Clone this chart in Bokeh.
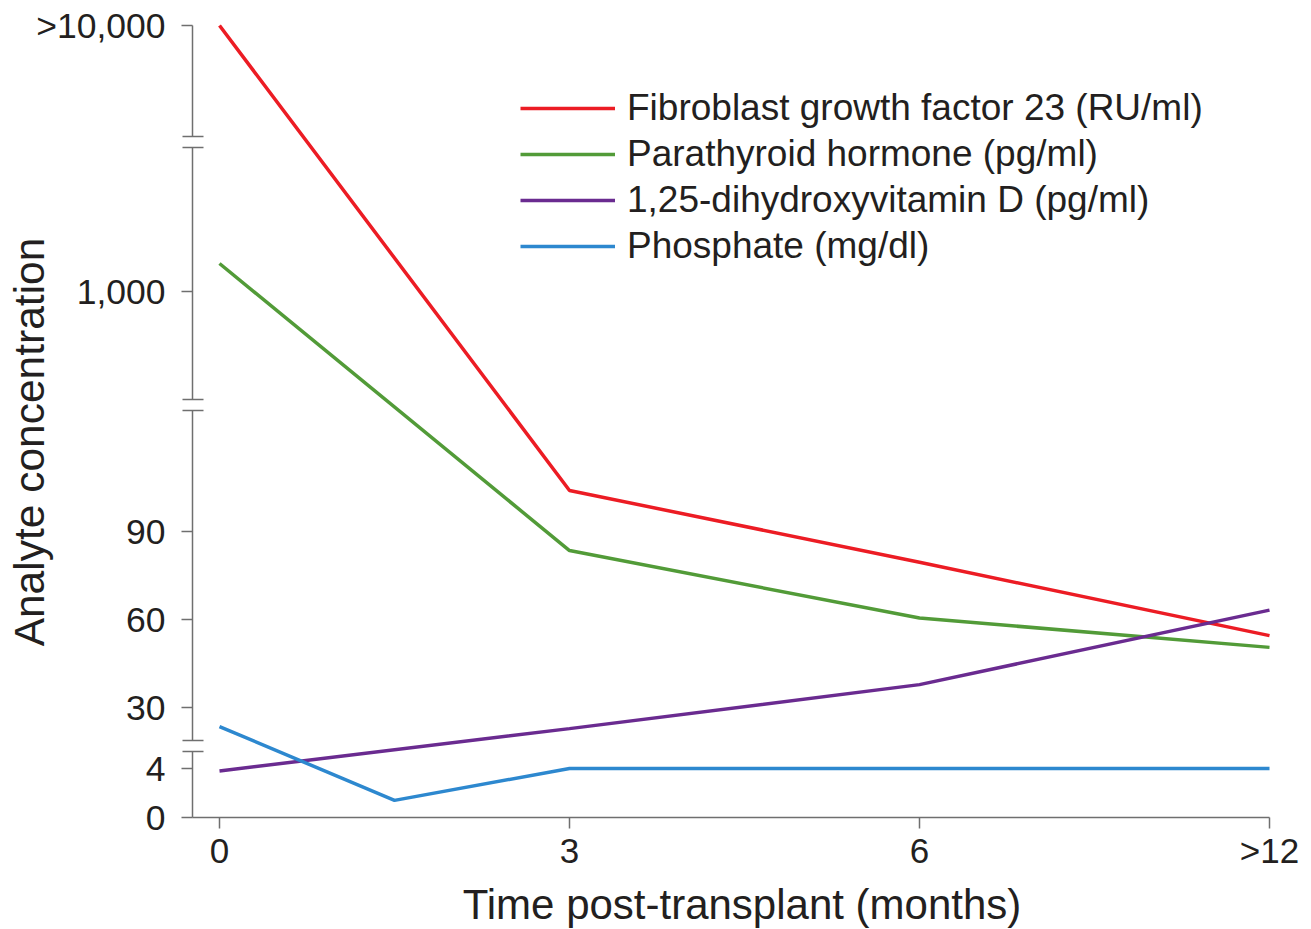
import math
from bokeh.plotting import figure
from bokeh.models import Legend, LegendItem, ColumnDataSource
from bokeh.core.properties import value
from bokeh.embed import file_html
from bokeh.resources import INLINE

# ---------------- data ----------------
time_pos = [0, 3, 6, 9]                 # display positions of the time categories
time_labels = ["0", "3", "6", ">12"]

fgf23 = [10000, 104, 79.5, 54.5]        # RU/ml
pth = [1175, 83.5, 60.5, 50.5]          # pg/ml
vitd = [3.8, 22.8, 37.8, 63.2]          # pg/ml
phos_time = [0, 1.5, 3, 6, 9]
phos = [23.5, 1.4, 4, 4, 4]             # mg/dl

y_tick_values = [0, 4, 30, 60, 90, 1000, 10000]
y_tick_labels = ["0", "4", "30", "60", "90", "1,000", ">10,000"]

series_names = ["Fibroblast growth factor 23 (RU/ml)", "Parathyroid hormone (pg/ml)",
                "1,25-dihydroxyvitamin D (pg/ml)", "Phosphate (mg/dl)"]
series_colors = ["#ec1c24", "#529b38", "#6a2b90", "#2d88cf"]

x_title = "Time post-transplant (months)"
y_title = "Analyte concentration"

# ---------------- broken y scale (value -> display units) ----------------
def to_display(v):
    if v <= 8:
        return v * 12.25
    if v <= 300:
        return 110 + (v - 30) * 2.933
    if v <= 4000:
        return 526 + 400 * math.log10(v / 1000.0)
    return 792 + 400 * math.log10(v / 10000.0)

BREAKS = [(66, 77), (407, 418), (670, 681)]   # gaps of the axis, display units
Y_TOP = to_display(10000)

W, H = 1306, 929
PX = 116.667                     # pixels per x unit
X_START, X_END = -219 / PX, (W - 219) / PX
Y_START, Y_END = 817 - H, 817
AXIS_X = -27 / PX                # y-axis line
TICK_L = -38 / PX                # left end of y ticks
BRK_L, BRK_R = -37 / PX, -16 / PX
X_TICK_LEN = 11
YLAB_X = -54 / PX                # right edge of y tick labels
XLAB_Y = -33                     # middle of x tick labels
YTITLE_X, YTITLE_Y = -190.5 / PX, 375.5
XTITLE_X, XTITLE_Y = 522.5 / PX, -87

FONT = value("Liberation Sans")
TXT = "#231f20"
AX = "#6f6f6f"

p = figure(width=W, height=H, x_range=(X_START, X_END), y_range=(Y_START, Y_END),
           output_backend="svg", toolbar_location=None,
           x_axis_location=None, y_axis_location=None,
           min_border=0, min_border_left=0, min_border_right=0,
           min_border_top=0, min_border_bottom=0)
p.outline_line_color = None
p.xgrid.visible = False
p.ygrid.visible = False
p.background_fill_color = "white"
p.border_fill_color = "white"

ydisp_ticks = [to_display(v) for v in y_tick_values]

# y-axis line with breaks
seg_y0 = [0] + [b[1] for b in BREAKS]
seg_y1 = [b[0] for b in BREAKS] + [Y_TOP]
p.segment(x0=[AXIS_X] * len(seg_y0), y0=seg_y0, x1=[AXIS_X] * len(seg_y0), y1=seg_y1,
          line_color=AX, line_width=1.5)
# break marks
brk_y = [y for b in BREAKS for y in b]
p.segment(x0=[BRK_L] * len(brk_y), y0=brk_y, x1=[BRK_R] * len(brk_y), y1=brk_y,
          line_color=AX, line_width=1.5)
# y ticks
p.segment(x0=[TICK_L] * len(ydisp_ticks), y0=ydisp_ticks, x1=[AXIS_X] * len(ydisp_ticks),
          y1=ydisp_ticks, line_color=AX, line_width=1.5)
# x-axis line and ticks
p.segment(x0=[AXIS_X], y0=[0], x1=[time_pos[-1]], y1=[0], line_color=AX, line_width=1.5)
p.segment(x0=time_pos, y0=[0] * len(time_pos), x1=time_pos, y1=[-X_TICK_LEN] * len(time_pos),
          line_color=AX, line_width=1.5)

# tick labels
p.text(x=[YLAB_X] * len(ydisp_ticks), y=ydisp_ticks, text=y_tick_labels,
       text_align="right", text_baseline="middle", text_font=FONT,
       text_font_size="35.5px", text_color=TXT)
p.text(x=time_pos, y=[XLAB_Y] * len(time_pos), text=time_labels,
       text_align="center", text_baseline="middle", text_font=FONT,
       text_font_size="35px", text_color=TXT)

# axis titles
p.text(x=[YTITLE_X], y=[YTITLE_Y], text=[y_title], angle=math.pi / 2,
       text_align="center", text_baseline="middle", text_font=FONT,
       text_font_size="42.5px", text_color=TXT)
p.text(x=[XTITLE_X], y=[XTITLE_Y], text=[x_title],
       text_align="center", text_baseline="middle", text_font=FONT,
       text_font_size="42px", text_color=TXT)

# ---------------- series ----------------
series = [(time_pos, fgf23), (time_pos, pth), (time_pos, vitd), (phos_time, phos)]
items = []
for (xs, vals), name, col in zip(series, series_names, series_colors):
    src = ColumnDataSource(dict(x=xs, y=[to_display(v) for v in vals]))
    r = p.line("x", "y", source=src, line_color=col, line_width=3.5)
    items.append(LegendItem(label=name, renderers=[r]))

legend = Legend(items=items, location=(520, H - 269), orientation="vertical",
                glyph_width=95, glyph_height=46, label_height=46, label_standoff=12,
                spacing=0, padding=0, margin=0,
                label_text_font="Liberation Sans", label_text_font_size="37px",
                label_text_color=TXT,
                border_line_color=None, background_fill_alpha=0)
p.add_layout(legend, "center")

open("out.html", "w").write(file_html(p, INLINE))
